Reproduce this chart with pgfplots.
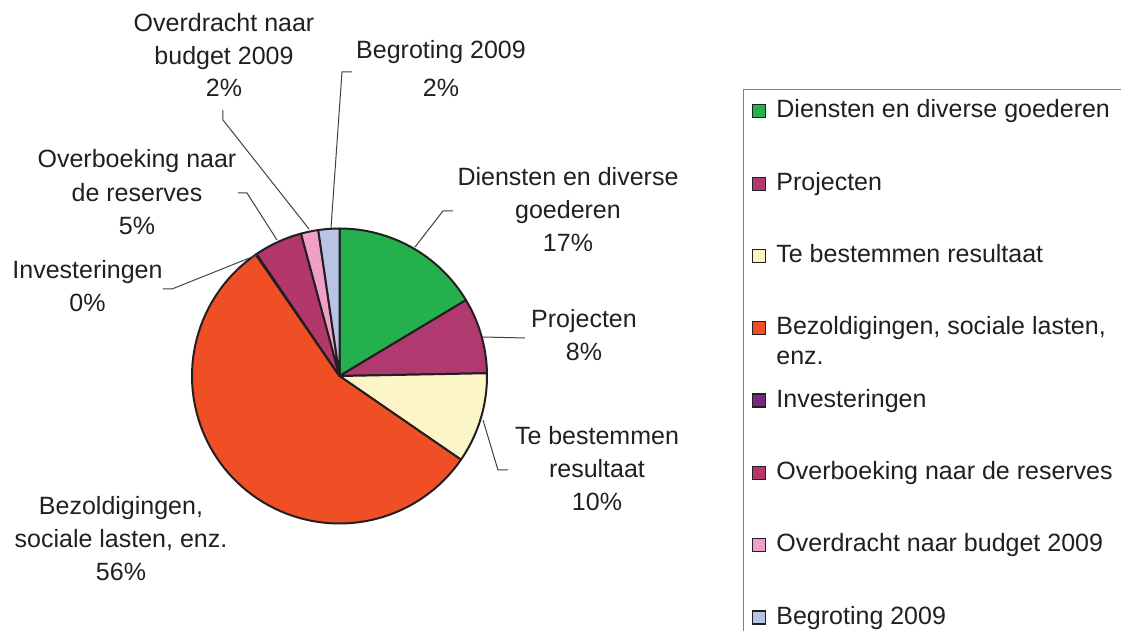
\documentclass[border=0pt]{standalone}
\usepackage{fontspec}
\setmainfont{Liberation Sans}
\usepackage{pgfplots}
\usepackage{pgfplotstable}
\pgfplotsset{compat=1.18}

\definecolor{cA}{RGB}{36,176,76}
\definecolor{cB}{RGB}{176,58,112}
\definecolor{cC}{RGB}{251,245,200}
\definecolor{cD}{RGB}{240,78,36}
\definecolor{cE}{RGB}{120,40,130}
\definecolor{cF}{RGB}{180,55,108}
\definecolor{cG}{RGB}{240,160,200}
\definecolor{cH}{RGB}{185,195,228}
\definecolor{edge}{RGB}{35,31,32}
\definecolor{textcol}{RGB}{35,31,32}
\definecolor{leggray}{RGB}{128,128,128}

% share of each item (percent), clockwise from 12 o'clock
\pgfplotstableread{
pct col
16.4 cA
8.3 cB
9.9 cC
55.8 cD
0.1 cE
5.3 cF
1.9 cG
2.3 cH
}\piedata

\begin{document}
\begin{tikzpicture}
\useasboundingbox (0,0) rectangle (560.5bp,-315.5bp);
\clip (0,0) rectangle (560.5bp,-315.5bp);
\begin{axis}[
  at={(169.75bp,-188bp)}, anchor=center,
  scale only axis, width=147.5bp, height=147.5bp,
  xmin=-1, xmax=1, ymin=-1, ymax=1,
  hide axis, clip=false,
  legend image code/.code={\draw[#1, draw=edge, line width=0.6bp] (0bp,-4.4bp) rectangle (6.5bp,2.1bp);},
  legend cell align=left,
  legend style={at={(1.8668,1.4729)}, anchor=north west,
    draw=leggray, line width=0.5bp, fill=white,
    inner xsep=4.5bp, inner ysep=5.3bp,
    row sep=27.0bp,
    /tikz/every odd column/.append style={column sep=5bp},
    font=\fontsize{12.5bp}{14.75bp}\selectfont, text=textcol,
    nodes={inner sep=0pt, text height=8.9bp, text depth=0pt}},
]
\pgfplotstablegetrowsof{\piedata}
\pgfmathtruncatemacro{\lastrow}{\pgfplotsretval-1}
\def\cum{0}
\pgfplotsforeachungrouped \i in {0,...,\lastrow}{%
  \pgfplotstablegetelem{\i}{pct}\of\piedata \let\val\pgfplotsretval
  \pgfplotstablegetelem{\i}{col}\of\piedata \let\slicecol\pgfplotsretval
  \pgfmathsetmacro{\angA}{90-3.6*\cum}%
  \pgfmathsetmacro{\angB}{90-3.6*(\cum+\val)}%
  \pgfmathsetmacro{\cum}{\cum+\val}%
  \edef\temp{\noexpand\addplot[forget plot, draw=edge, line width=1bp, line join=round,
    fill=\slicecol, domain=\angB:\angA, samples=80]
    ({cos(x)},{sin(x)}) -- (axis cs:0,0) -- cycle;}%
  \temp
}
\addlegendimage{fill=cA}\addlegendentry{Diensten en diverse goederen\hspace*{12bp}}
\addlegendimage{fill=cB}\addlegendentry{Projecten}
\addlegendimage{fill=cC}\addlegendentry{Te bestemmen resultaat}
\addlegendimage{fill=cD}\addlegendentry{\smash{\begin{tabular}[t]{@{}l@{}}Bezoldigingen, sociale lasten,\\enz.\end{tabular}}}
\addlegendimage{fill=cE}\addlegendentry{Investeringen}
\addlegendimage{fill=cF}\addlegendentry{Overboeking naar de reserves}
\addlegendimage{fill=cG}\addlegendentry{Overdracht naar budget 2009}
\addlegendimage{fill=cH}\addlegendentry{Begroting 2009}
\end{axis}

\begin{scope}[x=0.5bp, y=-0.5bp, font=\fontsize{12.5bp}{16.5bp}\selectfont, text=textcol,
  every node/.style={anchor=base, inner sep=0pt},
  leader/.style={draw=black!75, line width=0.5bp}]
  % leader lines
  \draw[leader] (415,247) -- (443,211) -- (453,211);
  \draw[leader] (483,337) -- (525,338);
  \draw[leader] (483,420) -- (498,470) -- (508,470);
  \draw[leader] (257,255) -- (172,289) -- (163,289);
  \draw[leader] (277,240) -- (247,193) -- (238,193);
  \draw[leader] (309,229) -- (223,120) -- (223,110);
  \draw[leader] (331,228) -- (342,72) -- (352,72);
  % labels
  \node at (568,186) {Diensten en diverse};
  \node at (568,219) {goederen};
  \node at (568,252) {17\%};
  \node at (584,328) {Projecten};
  \node at (584,361) {8\%};
  \node at (597,445) {Te bestemmen};
  \node at (597,478) {resultaat};
  \node at (597,511) {10\%};
  \node at (121,515) {Bezoldigingen,};
  \node at (121,548) {sociale lasten, enz.};
  \node at (121,581) {56\%};
  \node at (87.5,279) {Investeringen};
  \node at (87.5,312) {0\%};
  \node at (137,168) {Overboeking naar};
  \node at (137,201.5) {de reserves};
  \node at (137,235) {5\%};
  \node at (224,31) {Overdracht naar};
  \node at (224,64) {budget 2009};
  \node at (224,97) {2\%};
  \node at (441,58) {Begroting 2009};
  \node at (441,97) {2\%};
\end{scope}
\end{tikzpicture}
\end{document}
